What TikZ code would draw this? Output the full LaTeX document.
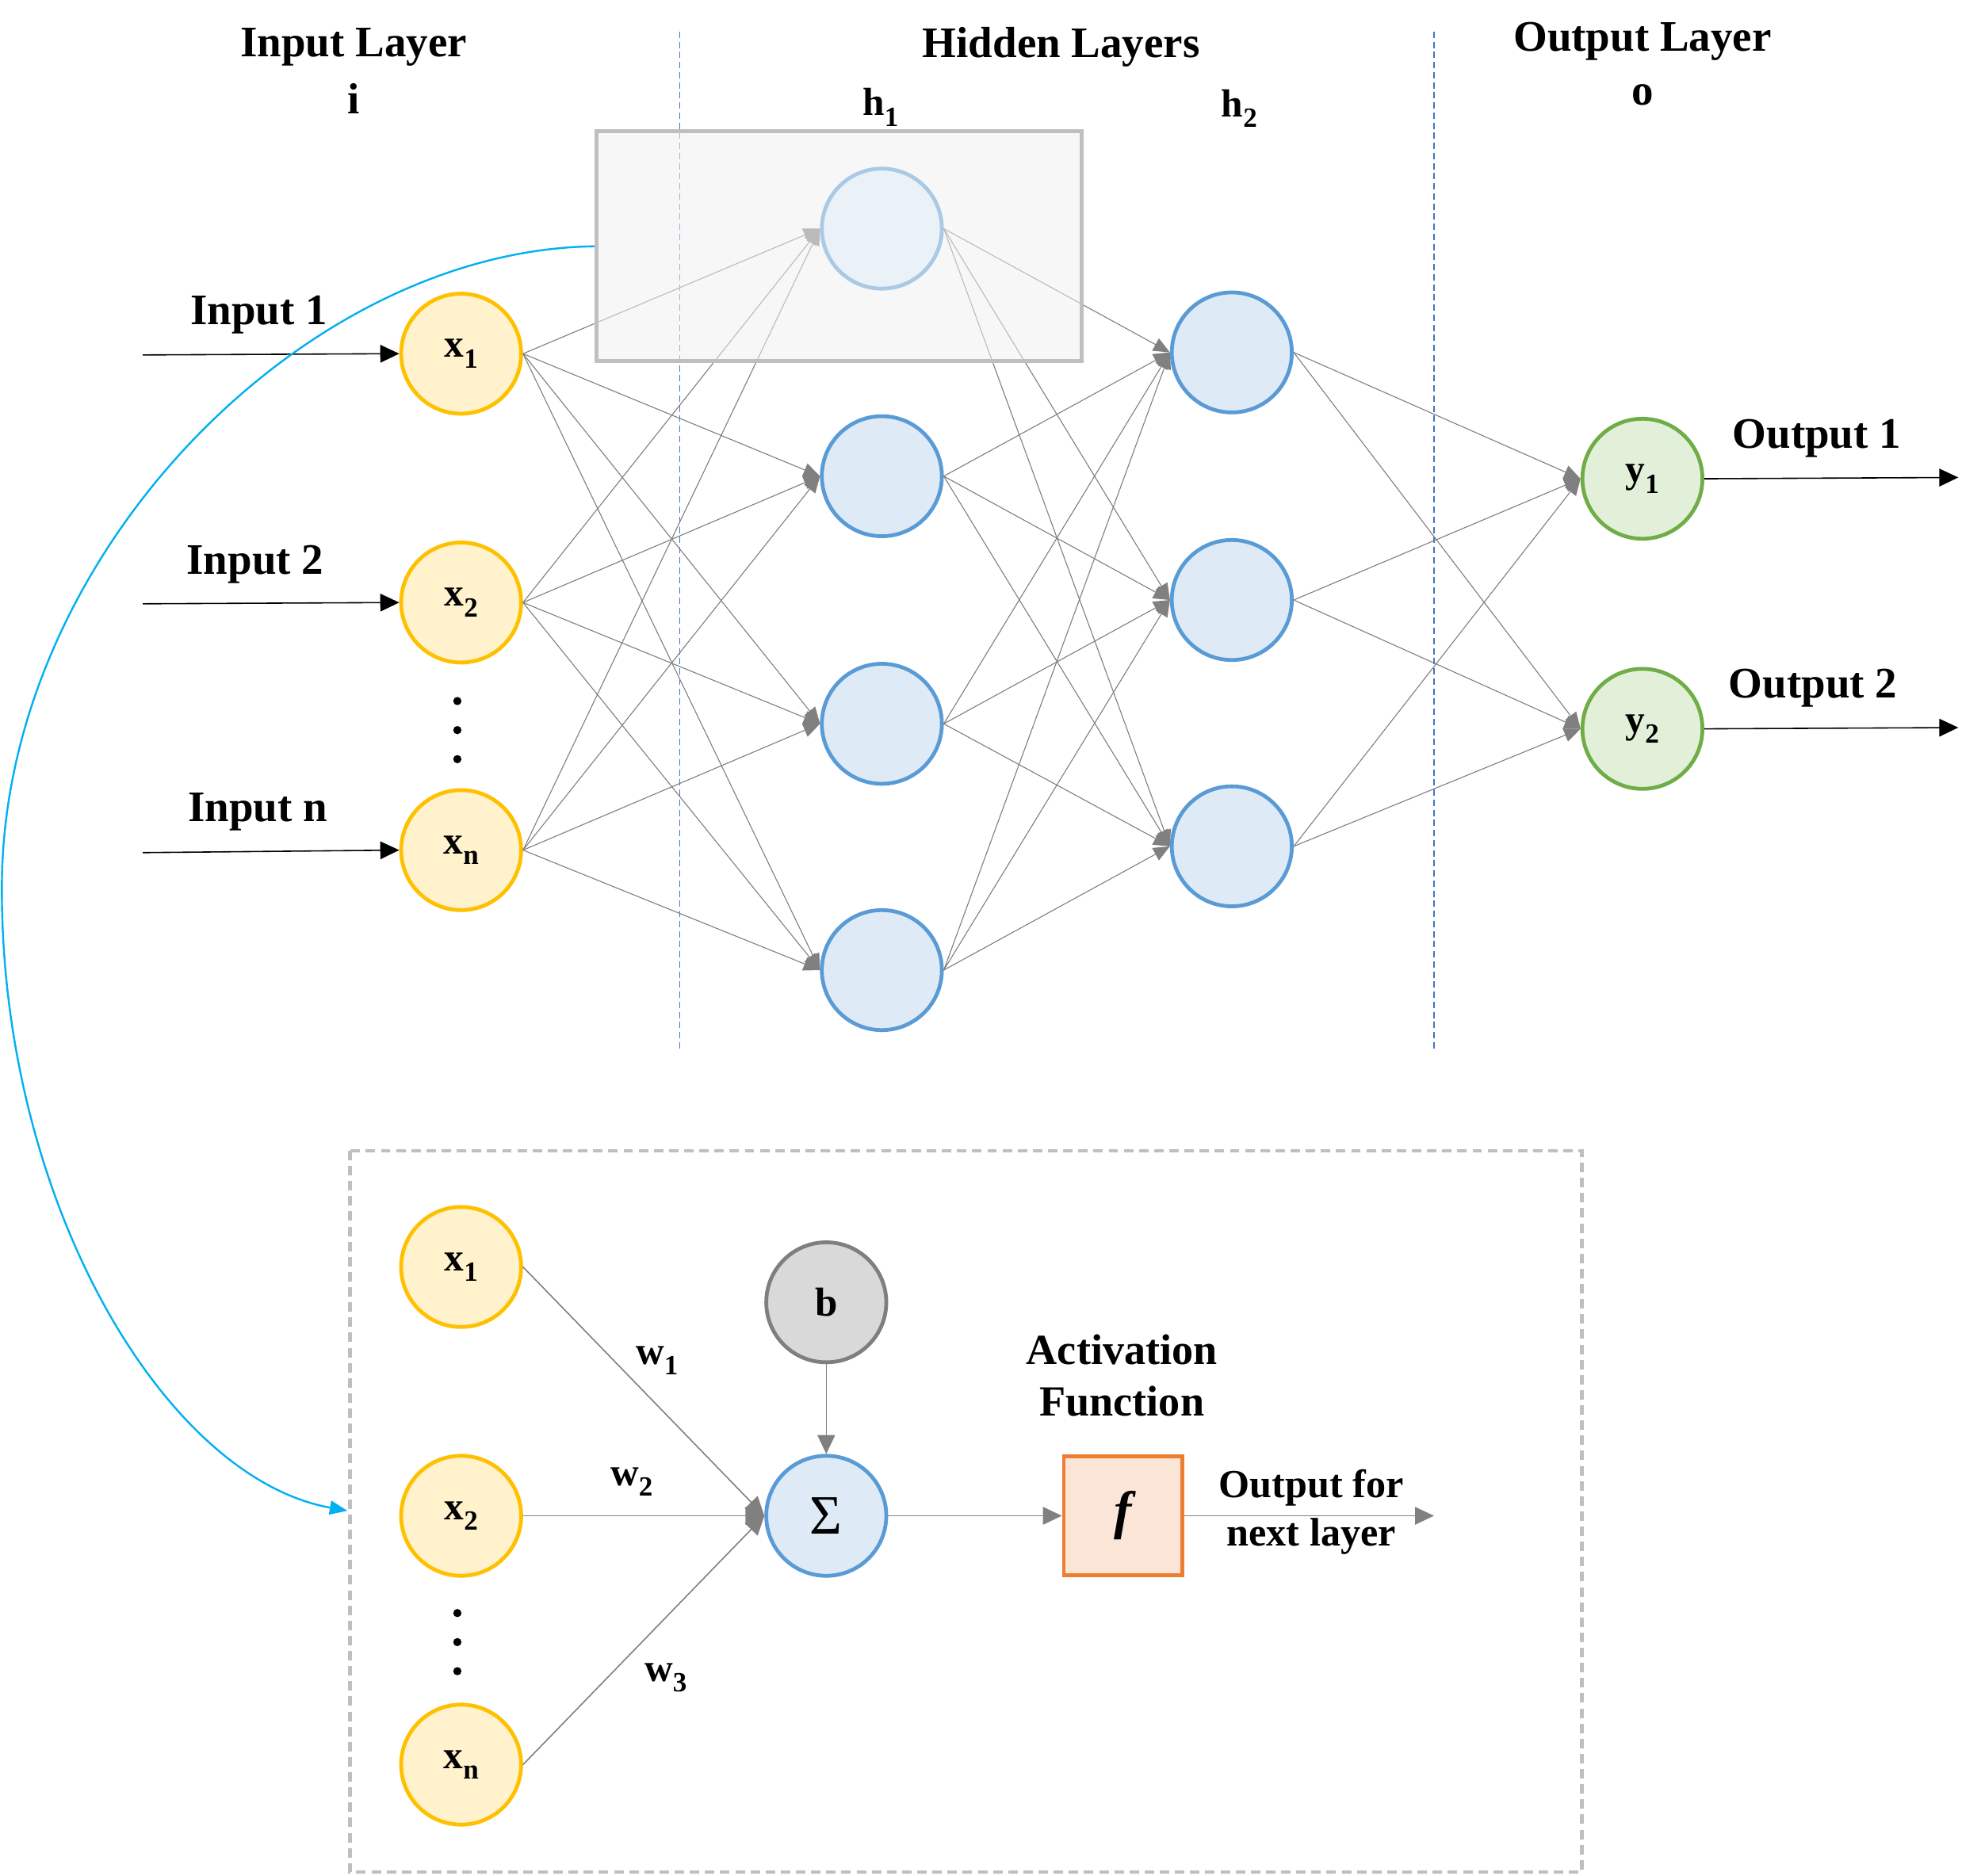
\documentclass[tikz,border=0pt]{standalone}
\usepackage{fontspec}
\setmainfont{Liberation Serif}
\usetikzlibrary{arrows.meta}
\definecolor{inY}{HTML}{FFF2CC}
\definecolor{inYd}{HTML}{FFC000}
\definecolor{hB}{HTML}{DEEBF7}
\definecolor{hBd}{HTML}{5B9BD5}
\definecolor{oG}{HTML}{E2F0D9}
\definecolor{oGd}{HTML}{70AD47}
\definecolor{bG}{HTML}{D9D9D9}
\definecolor{bGd}{HTML}{7F7F7F}
\definecolor{fO}{HTML}{FBE5D6}
\definecolor{fOd}{HTML}{ED7D31}
\definecolor{edgeG}{HTML}{808080}
\definecolor{curveB}{HTML}{00B0F0}
\definecolor{sepB}{HTML}{4472C4}
\definecolor{boxG}{HTML}{BFBFBF}
\definecolor{rectF}{HTML}{F7F7F7}
\newcommand\lsub[1]{\raisebox{-0.27em}{\fontsize{22}{22}\selectfont #1}}
\newcommand\nodefnt{\fontsize{31}{33}\selectfont\bfseries}
\tikzset{
  neuron/.style={circle, minimum size=95pt, inner sep=0pt, line width=3pt, font=\nodefnt},
  inN/.style={neuron, draw=inYd, fill=inY},
  hidN/.style={neuron, draw=hBd, fill=hB},
  outN/.style={neuron, draw=oGd, fill=oG},
  lbl/.style={font=\fontsize{34.5}{38}\selectfont\bfseries, inner sep=0pt},
  wlbl/.style={font=\nodefnt, inner sep=0pt},
  nnedge/.style={color=edgeG, line width=0.7pt, -{Triangle[length=13pt,width=11pt]}},
  botedge/.style={color=edgeG, line width=1pt, -{Triangle[length=15pt,width=14pt]}},
  ioarrow/.style={black, line width=1pt, -{Triangle[length=15pt,width=14pt]}},
  sepline/.style={sepB, line width=1.1pt, dash pattern=on 5pt off 3pt},
  dotmark/.style={circle, fill=black, inner sep=0pt, minimum size=6.5pt},
}
\begin{document}
\begin{tikzpicture}[x=1pt,y=-1pt]
\useasboundingbox (0,0) rectangle (1568,1485);
\fill[white] (0,0) rectangle (1568,1485);
% background of highlight rect
\fill[rectF] (472,104) rectangle (856,286);
% separators
\draw[sepline] (538,25) -- (538,832);
\draw[sepline] (1135,25) -- (1135,830);
% titles
\node[lbl] (tin) at (280,37) {Input Layer};
\node[lbl] (ti) at (280,78) {i};
\node[lbl] (thid) at (840,37) {Hidden Layers};
\node[lbl] (tout) at (1300,33) {Output Layer};
\node[lbl] (to) at (1300,75) {o};
\node[lbl, font=\fontsize{31}{33}\selectfont\bfseries] (th1) at (697,85) {h\lsub{1}};
\node[lbl, font=\fontsize{31}{33}\selectfont\bfseries] (th2) at (981,86) {h\lsub{2}};
% neurons
\node[inN] (x1) at (365,280) {x\lsub{1}};
\node[inN] (x2) at (365,477) {x\lsub{2}};
\node[inN] (xn) at (365,673) {x\lsub{n}};
\node[hidN] (h11) at (698,181) {};
\node[hidN] (h12) at (698,377) {};
\node[hidN] (h13) at (698,573) {};
\node[hidN] (h14) at (698,768) {};
\node[hidN] (h21) at (975,279) {};
\node[hidN] (h22) at (975,475) {};
\node[hidN] (h23) at (975,670) {};
\node[outN] (y1) at (1300,379) {y\lsub{1}};
\node[outN] (y2) at (1300,577) {y\lsub{2}};
% edges
\foreach \a in {x1,x2,xn}
  \foreach \b in {h11,h12,h13,h14}
    \draw[nnedge] (\a.east) -- (\b.west);
\foreach \a in {h11,h12,h13,h14}
  \foreach \b in {h21,h22,h23}
    \draw[nnedge] (\a.east) -- (\b.west);
\foreach \a in {h21,h22,h23}
  \foreach \b in {y1,y2}
    \draw[nnedge] (\a.east) -- (\b.west);
% dots
\node[dotmark] (d1) at (362,555) {};
\node[dotmark] (d2) at (362,578) {};
\node[dotmark] (d3) at (362,601) {};
% inputs
\coordinate (in1) at (113,281);
\coordinate (in2) at (113,478);
\coordinate (inn) at (113,675);
\draw[ioarrow] (in1) -- (x1.west);
\draw[ioarrow] (in2) -- (x2.west);
\draw[ioarrow] (inn) -- (xn.west);
\node[lbl] (li1) at (205,249) {Input 1};
\node[lbl] (li2) at (202,447) {Input 2};
\node[lbl] (lin) at (204,643) {Input n};
% outputs
\coordinate (out1) at (1550,378);
\coordinate (out2) at (1550,576);
\draw[ioarrow] (y1.east) -- (out1);
\draw[ioarrow] (y2.east) -- (out2);
\node[lbl] (lo1) at (1438,347) {Output 1};
\node[lbl] (lo2) at (1435,545) {Output 2};
% highlight overlay
\node[draw=boxG, line width=3pt, fill=rectF, fill opacity=0.5, minimum width=384pt, minimum height=182pt, inner sep=0pt] (hl) at (664,195) {};
% bottom box
\draw[boxG, line width=2.8pt, dash pattern=on 7.5pt off 4.5pt] (277,911) rectangle (1252,1482);
\node[inN] (bx1) at (365,1003) {x\lsub{1}};
\node[inN] (bx2) at (365,1200) {x\lsub{2}};
\node[inN] (bxn) at (365,1397) {x\lsub{n}};
\node[dotmark] (e1) at (362,1277) {};
\node[dotmark] (e2) at (362,1300) {};
\node[dotmark] (e3) at (362,1323) {};
\node[neuron, draw=bGd, fill=bG, font=\fontsize{32}{34}\selectfont\bfseries] (b) at (654,1031) {b};
\node[hidN, font=\fontsize{44}{46}\selectfont] (sum) at (654,1200) {Σ};
\node[draw=fOd, fill=fO, line width=3pt, minimum size=94pt, inner sep=0pt, font=\fontsize{42}{44}\selectfont\bfseries\itshape] (f) at (889,1200) {f};
\draw[botedge] (bx1.east) -- (sum.west);
\draw[botedge] (bx2.east) -- (sum.west);
\draw[botedge] (bxn.east) -- (sum.west);
\draw[botedge] (b) -- (sum);
\draw[botedge] (sum) -- (f);
\coordinate (fout) at (1135,1200);
\draw[botedge] (f) -- (fout);
\node[wlbl] (w1) at (520,1077) {w\lsub{1}};
\node[wlbl] (w2) at (500,1173) {w\lsub{2}};
\node[wlbl] (w3) at (527,1328) {w\lsub{3}};
\node[lbl, align=center, font=\fontsize{34}{41}\selectfont\bfseries] (act) at (888,1089) {Activation\\Function};
\node[lbl, align=center, font=\fontsize{31.5}{38}\selectfont\bfseries] (ofl) at (1038,1197) {Output for\\next layer};
% blue curve
\coordinate (cend) at (275,1196);
\draw[curveB, line width=1.5pt, -{Triangle[length=14pt,width=11pt]}] (hl.west) .. controls (240,198) and (3,440) .. (1.5,700) .. controls (0,950) and (130,1170) .. (cend);
\end{tikzpicture}
\end{document}
